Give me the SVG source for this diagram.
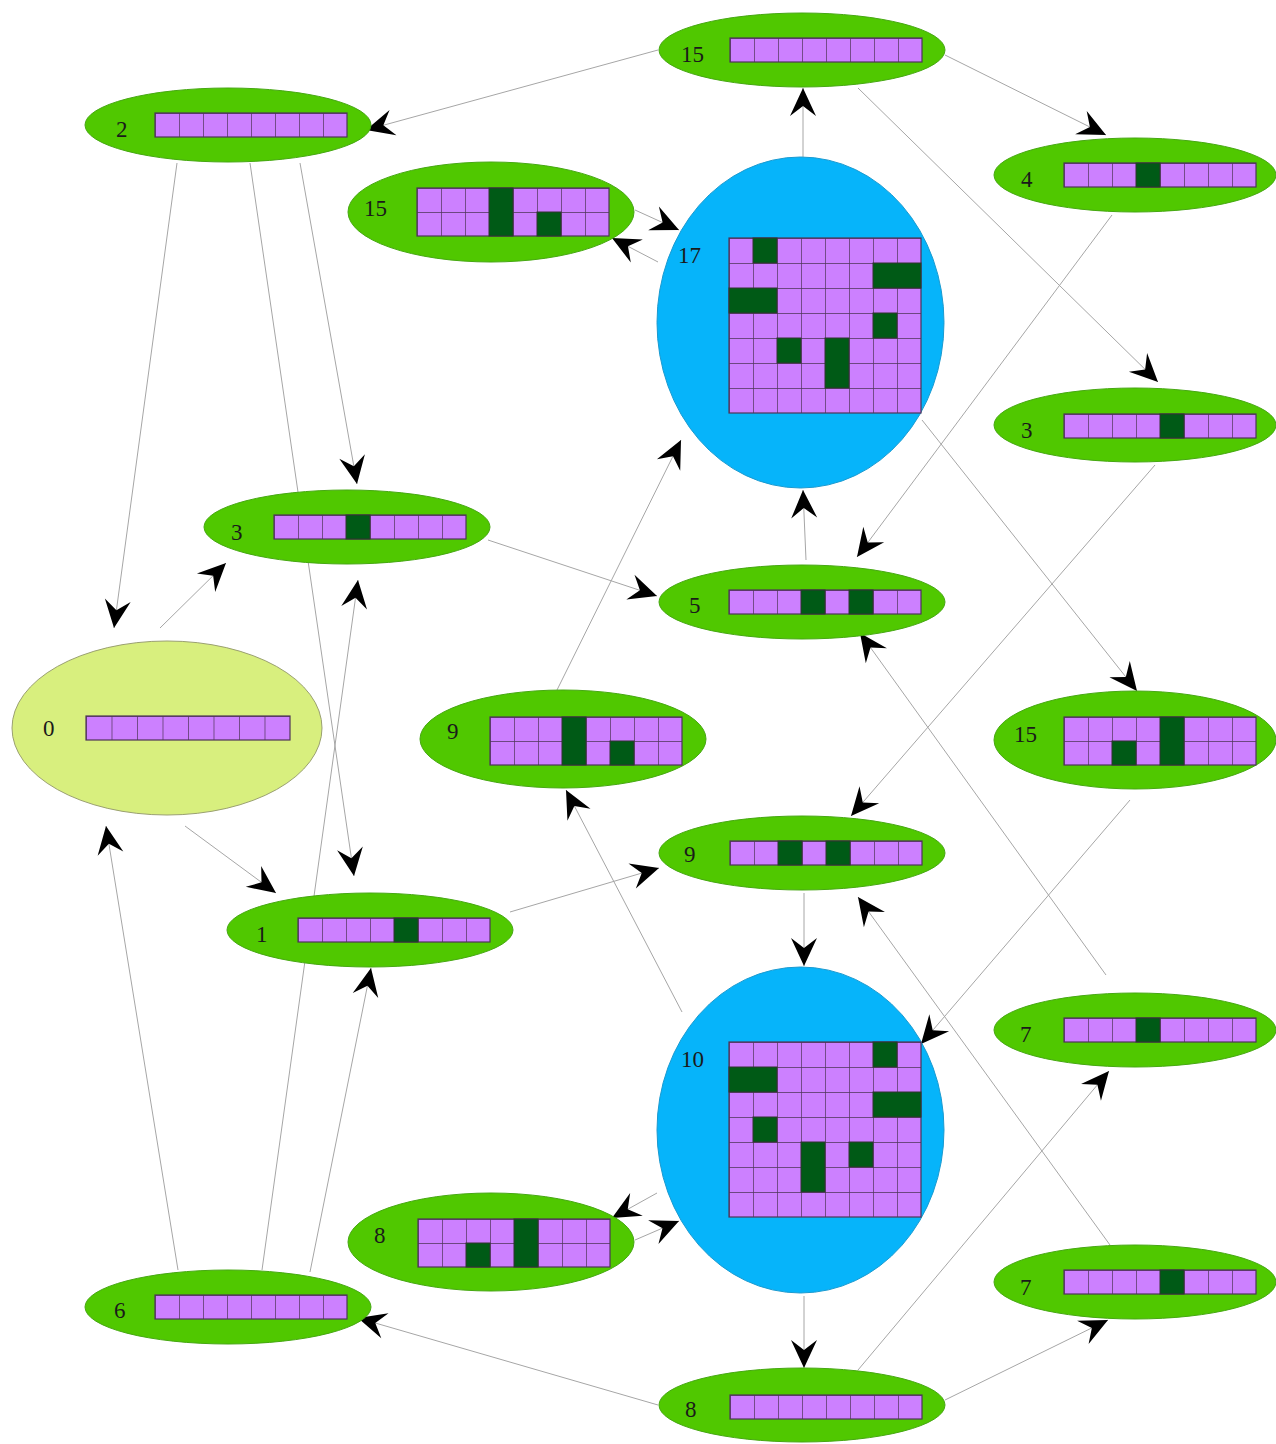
<svg xmlns="http://www.w3.org/2000/svg" width="1276" height="1444" viewBox="0 0 1276 1444">
  <style>
    .leaf { fill: #50c800; stroke: #46a812; stroke-width: 1; }
    .root { fill: #d8ef7e; stroke: #9aa070; stroke-width: 1; }
    .big { fill: #06b4fa; stroke: #1a9ad0; stroke-width: 1; }
    .lbl { font-family: "Liberation Serif", "Times New Roman", serif; font-size: 23px; fill: #1a1a1a; }
    .row { stroke: #4e3458; stroke-width: 1.2; }
    .on { fill: #005a16; stroke: #333333; stroke-width: 1; }
    .edge { stroke: #a6a6a6; stroke-width: 1; fill: none; marker-end: url(#head); }
  </style>
  <defs>
    <!-- one board cell, light state -->
    <pattern id="cell" width="24" height="24" patternUnits="userSpaceOnUse">
      <rect width="24" height="24" fill="#cc80ff"/>
      <path d="M0,0H24M0,0V24" stroke="#4e3458" stroke-width="1.4" fill="none"/>
    </pattern>
    <pattern id="cellT" width="24" height="25" patternUnits="userSpaceOnUse">
      <rect width="24" height="25" fill="#cc80ff"/>
      <path d="M0,0H24M0,0V25" stroke="#4e3458" stroke-width="1.4" fill="none"/>
    </pattern>
    <pattern id="cellW" width="25.5" height="24" patternUnits="userSpaceOnUse">
      <rect width="25.5" height="24" fill="#cc80ff"/>
      <path d="M0,0H25.5M0,0V24" stroke="#4e3458" stroke-width="1.4" fill="none"/>
    </pattern>
    <marker id="head" viewBox="-29 -14 30 28" refX="0" refY="0" markerWidth="30" markerHeight="28" markerUnits="userSpaceOnUse" orient="auto">
      <path d="M0,0 L-28,-13 L-18,0 L-28,13 Z" fill="#000"/>
    </marker>
  </defs>

  <rect width="1276" height="1444" fill="#ffffff"/>

  <!-- transitions -->
  <g id="connectors">
    <line class="edge" x1="658" y1="50" x2="366" y2="130"/>
    <line class="edge" x1="945" y1="55" x2="1106" y2="135"/>
    <line class="edge" x1="858" y1="88" x2="1158" y2="382"/>
    <line class="edge" x1="803" y1="157" x2="803" y2="88"/>
    <line class="edge" x1="635" y1="210" x2="679" y2="230"/>
    <line class="edge" x1="658" y1="262" x2="612" y2="238"/>
    <line class="edge" x1="177" y1="163" x2="114" y2="628"/>
    <line class="edge" x1="250" y1="163" x2="354" y2="876"/>
    <line class="edge" x1="300" y1="163" x2="357" y2="484"/>
    <line class="edge" x1="160" y1="628" x2="226" y2="563"/>
    <line class="edge" x1="185" y1="826" x2="276" y2="893"/>
    <line class="edge" x1="488" y1="540" x2="657" y2="596"/>
    <line class="edge" x1="178" y1="1270" x2="106" y2="826"/>
    <line class="edge" x1="262" y1="1270" x2="358" y2="580"/>
    <line class="edge" x1="310" y1="1272" x2="371" y2="968"/>
    <line class="edge" x1="510" y1="912" x2="659" y2="868"/>
    <line class="edge" x1="557" y1="690" x2="681" y2="440"/>
    <line class="edge" x1="806" y1="560" x2="803" y2="490"/>
    <line class="edge" x1="1112" y1="215" x2="857" y2="557"/>
    <line class="edge" x1="922" y1="420" x2="1137" y2="691"/>
    <line class="edge" x1="1155" y1="465" x2="851" y2="816"/>
    <line class="edge" x1="804" y1="893" x2="804" y2="966"/>
    <line class="edge" x1="682" y1="1012" x2="566" y2="790"/>
    <line class="edge" x1="1130" y1="800" x2="921" y2="1044"/>
    <line class="edge" x1="1106" y1="975" x2="860" y2="633"/>
    <line class="edge" x1="1110" y1="1245" x2="858" y2="897"/>
    <line class="edge" x1="657" y1="1193" x2="612" y2="1218"/>
    <line class="edge" x1="635" y1="1240" x2="679" y2="1221"/>
    <line class="edge" x1="804" y1="1296" x2="804" y2="1368"/>
    <line class="edge" x1="658" y1="1405" x2="358" y2="1318"/>
    <line class="edge" x1="858" y1="1370" x2="1109" y2="1071"/>
    <line class="edge" x1="945" y1="1400" x2="1108" y2="1320"/>
  </g>

  <!-- states -->
  <g id="n15a">
    <ellipse class="leaf" cx="802" cy="50" rx="143" ry="37"/>
    <text class="lbl" x="681" y="62">15</text>
    <g transform="translate(730,38)"><rect class="row" width="192" height="24" fill="url(#cell)"/></g>
  </g>

  <g id="n2">
    <ellipse class="leaf" cx="228" cy="125" rx="143" ry="37"/>
    <text class="lbl" x="116" y="137">2</text>
    <g transform="translate(155,113)"><rect class="row" width="192" height="24" fill="url(#cell)"/></g>
  </g>

  <g id="n4">
    <ellipse class="leaf" cx="1135" cy="175" rx="141" ry="37"/>
    <text class="lbl" x="1021" y="187">4</text>
    <g transform="translate(1064,163)">
      <rect class="row" width="192" height="24" fill="url(#cell)"/>
      <rect class="on" x="72" y="0" width="24" height="24"/>
    </g>
  </g>

  <g id="n15b">
    <ellipse class="leaf" cx="491" cy="212" rx="143" ry="50"/>
    <text class="lbl" x="364" y="216">15</text>
    <g transform="translate(417,188)">
      <rect class="row" width="192" height="48" fill="url(#cell)"/>
      <rect class="on" x="72" y="0" width="24" height="48"/>
      <rect class="on" x="120" y="24" width="24" height="24"/>
    </g>
  </g>

  <g id="n17">
    <ellipse class="big" cx="800.5" cy="322.5" rx="143.5" ry="165.5"/>
    <text class="lbl" x="678" y="263">17</text>
    <g transform="translate(729,238)">
      <rect class="row" width="192" height="175" fill="url(#cellT)"/>
      <rect class="on" x="24" y="0" width="24" height="25"/>
      <rect class="on" x="144" y="25" width="48" height="25"/>
      <rect class="on" x="0" y="50" width="48" height="25"/>
      <rect class="on" x="144" y="75" width="24" height="25"/>
      <rect class="on" x="48" y="100" width="24" height="25"/>
      <rect class="on" x="96" y="100" width="24" height="50"/>
    </g>
  </g>

  <g id="n3r">
    <ellipse class="leaf" cx="1135" cy="425" rx="141" ry="37"/>
    <text class="lbl" x="1021" y="438">3</text>
    <g transform="translate(1064,414)">
      <rect class="row" width="192" height="24" fill="url(#cell)"/>
      <rect class="on" x="96" y="0" width="24" height="24"/>
    </g>
  </g>

  <g id="n3l">
    <ellipse class="leaf" cx="347" cy="527" rx="143" ry="37"/>
    <text class="lbl" x="231" y="540">3</text>
    <g transform="translate(274,515)">
      <rect class="row" width="192" height="24" fill="url(#cell)"/>
      <rect class="on" x="72" y="0" width="24" height="24"/>
    </g>
  </g>

  <g id="n5">
    <ellipse class="leaf" cx="802" cy="602" rx="143" ry="37"/>
    <text class="lbl" x="689" y="613">5</text>
    <g transform="translate(729,590)">
      <rect class="row" width="192" height="24" fill="url(#cell)"/>
      <rect class="on" x="72" y="0" width="24" height="24"/>
      <rect class="on" x="120" y="0" width="24" height="24"/>
    </g>
  </g>

  <g id="n0">
    <ellipse class="root" cx="167" cy="728" rx="155" ry="87"/>
    <text class="lbl" x="43" y="736">0</text>
    <g transform="translate(86,716)"><rect class="row" width="204" height="24" fill="url(#cellW)"/></g>
  </g>

  <g id="n9b">
    <ellipse class="leaf" cx="563" cy="739" rx="143" ry="49"/>
    <text class="lbl" x="447" y="739">9</text>
    <g transform="translate(490,717)">
      <rect class="row" width="192" height="48" fill="url(#cell)"/>
      <rect class="on" x="72" y="0" width="24" height="48"/>
      <rect class="on" x="120" y="24" width="24" height="24"/>
    </g>
  </g>

  <g id="n15c">
    <ellipse class="leaf" cx="1135" cy="740" rx="141" ry="49"/>
    <text class="lbl" x="1014" y="742">15</text>
    <g transform="translate(1064,717)">
      <rect class="row" width="192" height="48" fill="url(#cell)"/>
      <rect class="on" x="96" y="0" width="24" height="48"/>
      <rect class="on" x="48" y="24" width="24" height="24"/>
    </g>
  </g>

  <g id="n9a">
    <ellipse class="leaf" cx="802" cy="853" rx="143" ry="37"/>
    <text class="lbl" x="684" y="862">9</text>
    <g transform="translate(730,841)">
      <rect class="row" width="192" height="24" fill="url(#cell)"/>
      <rect class="on" x="48" y="0" width="24" height="24"/>
      <rect class="on" x="96" y="0" width="24" height="24"/>
    </g>
  </g>

  <g id="n1">
    <ellipse class="leaf" cx="370" cy="930" rx="143" ry="37"/>
    <text class="lbl" x="256" y="942">1</text>
    <g transform="translate(298,918)">
      <rect class="row" width="192" height="24" fill="url(#cell)"/>
      <rect class="on" x="96" y="0" width="24" height="24"/>
    </g>
  </g>

  <g id="n10">
    <ellipse class="big" cx="800.5" cy="1130" rx="143.5" ry="163"/>
    <text class="lbl" x="681" y="1067">10</text>
    <g transform="translate(729,1042)">
      <rect class="row" width="192" height="175" fill="url(#cellT)"/>
      <rect class="on" x="144" y="0" width="24" height="25"/>
      <rect class="on" x="0" y="25" width="48" height="25"/>
      <rect class="on" x="144" y="50" width="48" height="25"/>
      <rect class="on" x="24" y="75" width="24" height="25"/>
      <rect class="on" x="72" y="100" width="24" height="50"/>
      <rect class="on" x="120" y="100" width="24" height="25"/>
    </g>
  </g>

  <g id="n7a">
    <ellipse class="leaf" cx="1135" cy="1030" rx="141" ry="37"/>
    <text class="lbl" x="1020" y="1042">7</text>
    <g transform="translate(1064,1018)">
      <rect class="row" width="192" height="24" fill="url(#cell)"/>
      <rect class="on" x="72" y="0" width="24" height="24"/>
    </g>
  </g>

  <g id="n8b">
    <ellipse class="leaf" cx="491" cy="1242" rx="143" ry="49"/>
    <text class="lbl" x="374" y="1243">8</text>
    <g transform="translate(418,1219)">
      <rect class="row" width="192" height="48" fill="url(#cell)"/>
      <rect class="on" x="96" y="0" width="24" height="48"/>
      <rect class="on" x="48" y="24" width="24" height="24"/>
    </g>
  </g>

  <g id="n6">
    <ellipse class="leaf" cx="228" cy="1307" rx="143" ry="37"/>
    <text class="lbl" x="114" y="1318">6</text>
    <g transform="translate(155,1295)"><rect class="row" width="192" height="24" fill="url(#cell)"/></g>
  </g>

  <g id="n7b">
    <ellipse class="leaf" cx="1135" cy="1282" rx="141" ry="37"/>
    <text class="lbl" x="1020" y="1295">7</text>
    <g transform="translate(1064,1270)">
      <rect class="row" width="192" height="24" fill="url(#cell)"/>
      <rect class="on" x="96" y="0" width="24" height="24"/>
    </g>
  </g>

  <g id="n8a">
    <ellipse class="leaf" cx="802" cy="1405" rx="143" ry="37"/>
    <text class="lbl" x="685" y="1417">8</text>
    <g transform="translate(730,1395)"><rect class="row" width="192" height="24" fill="url(#cell)"/></g>
  </g>
</svg>
